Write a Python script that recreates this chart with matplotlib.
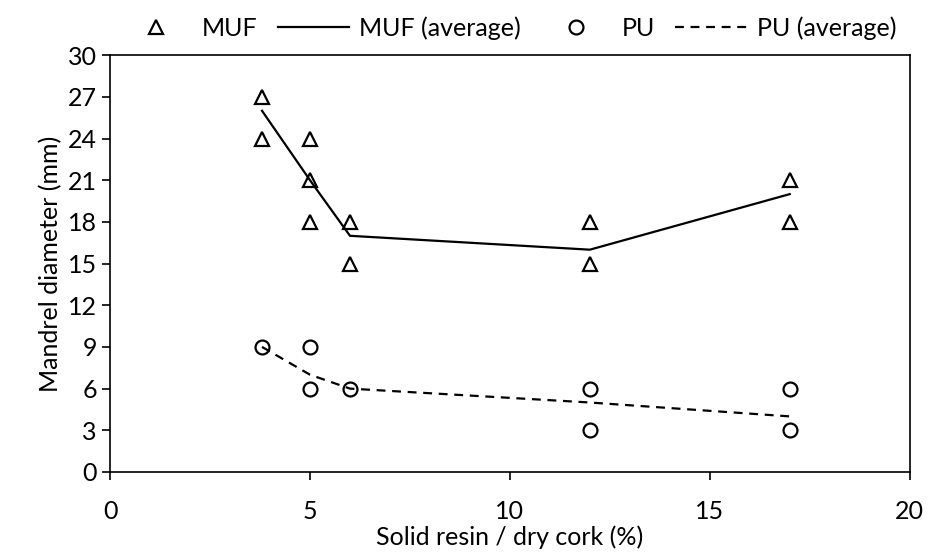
import matplotlib
matplotlib.use("Agg")
import matplotlib.pyplot as plt

plt.rcParams["font.family"] = ["Lato", "DejaVu Sans"]

# MUF individual measurements
muf_x = [3.8, 3.8, 5, 5, 5, 6, 6, 12, 12, 17, 17]
muf_y = [27, 24, 24, 21, 18, 18, 15, 18, 15, 21, 18]
# MUF average
muf_avg_x = [3.8, 5, 6, 12, 17]
muf_avg_y = [26, 21, 17, 16, 20]

# PU individual measurements
pu_x = [3.8, 5, 5, 6, 12, 12, 17, 17]
pu_y = [9, 9, 6, 6, 6, 3, 6, 3]
# PU average
pu_avg_x = [3.8, 5, 6, 12, 17]
pu_avg_y = [9, 7, 6, 5, 4]

fig = plt.figure(figsize=(9.33, 5.52), dpi=100)
ax = fig.add_axes([0.118, 0.145, 0.857, 0.755])

ax.plot(muf_x, muf_y, linestyle="none", marker="^", markersize=10,
        markerfacecolor="none", markeredgecolor="black", markeredgewidth=1.6,
        label="MUF")
ax.plot(muf_avg_x, muf_avg_y, color="black", linewidth=1.6, label="MUF (average)")
ax.plot(pu_x, pu_y, linestyle="none", marker="o", markersize=10,
        markerfacecolor="none", markeredgecolor="black", markeredgewidth=1.6,
        label="PU")
ax.plot(pu_avg_x, pu_avg_y, color="black", linewidth=1.6, linestyle=(0, (4, 3)),
        label="PU (average)")

ax.set_xlim(0, 20)
ax.set_ylim(0, 30)
ax.set_xticks([0, 5, 10, 15, 20])
ax.set_yticks(range(0, 31, 3))
ax.tick_params(axis="both", labelsize=18, direction="out", length=6, width=1.2,
               colors="black")
ax.tick_params(axis="x", pad=14)
for s in ax.spines.values():
    s.set_linewidth(1.2)

ax.set_xlabel("Solid resin / dry cork (%)", fontsize=18, labelpad=2)
ax.set_ylabel("Mandrel diameter (mm)", fontsize=18, labelpad=4)

fig.legend(loc="upper center", bbox_to_anchor=(0.545, 1.011), ncol=4, frameon=False,
           fontsize=18, numpoints=1, handlelength=2.85, columnspacing=0.8,
           handletextpad=0.4)

fig.savefig("out.png", dpi=100)
